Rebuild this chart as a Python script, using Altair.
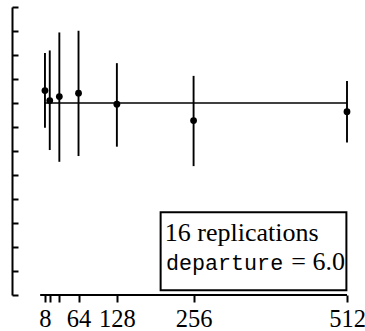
import altair as alt
import pandas as pd

# ---- data ----
sizes = [8, 16, 32, 64, 128, 256, 512]
means = [8.52, 8.10, 8.27, 8.41, 7.95, 7.27, 7.64]
lows = [6.97, 6.04, 5.55, 5.79, 6.18, 5.37, 6.35]
highs = [10.08, 10.19, 10.94, 11.01, 9.66, 9.13, 8.92]
target = [8.0]
x_ticks = [8, 16, 32, 64, 128, 256, 512]
x_shown = [8, 64, 128, 256, 512]
y_ticks = list(range(0, 13))
line1 = ["16 replications"]
line2a = ["departure"]
line2b = ["= 6.0"]

df = pd.DataFrame({"n": sizes, "mean": means, "lo": lows, "hi": highs})

W, H = 335, 288
SERIF = "Liberation Serif"
MONO = "Liberation Mono"

xs = alt.Scale(domain=[-47, 512], nice=False, zero=False)
ys = alt.Scale(domain=[0, 12], nice=False, zero=False)

shown_expr = "indexof([" + ",".join(str(v) for v in x_shown) + "], datum.value) >= 0 ? datum.label : ''"
x_axis = alt.Axis(values=x_ticks, labelExpr=shown_expr, domain=False, tickSize=7,
                  tickWidth=2, tickColor="black", labelFont=SERIF, labelFontSize=24.5,
                  labelColor="black", labelPadding=5, grid=False, title=None,
                  labelOverlap=False, labelFlush=False)
y_axis = alt.Axis(orient="right", offset=-W, values=y_ticks, labels=False, tickSize=6,
                  tickWidth=2, domainWidth=2, domainColor="black", tickColor="black",
                  grid=False, title=None)


def X(f):
    return alt.X(f, type="quantitative", scale=xs, axis=x_axis)


def Y(f):
    return alt.Y(f, type="quantitative", scale=ys, axis=y_axis)


bars = alt.Chart(df).mark_rule(color="black", strokeWidth=1.9).encode(
    x=X("n"), y=Y("lo"), y2="hi")
pts = alt.Chart(df).mark_circle(color="black", opacity=1, size=46).encode(
    x=X("n"), y=Y("mean"))

ref = alt.Chart(pd.DataFrame({"a": [sizes[0]], "b": [sizes[-1]], "t": target})).mark_rule(
    color="black", strokeWidth=1.6).encode(x=X("a"), x2="b", y=Y("t"))

xline = alt.Chart(pd.DataFrame({"a": [0], "b": [x_ticks[-1]], "t": [0]})).mark_rule(
    color="black", strokeWidth=2).encode(x=X("a"), x2="b", y=Y("t"))

box = alt.Chart(pd.DataFrame({"a": [201], "b": [511], "t": [3.45], "u": [0.2]})).mark_rect(
    fill="white", stroke="black", strokeWidth=2).encode(x=X("a"), x2="b", y=Y("t"), y2="u")

t1 = alt.Chart(pd.DataFrame({"a": [208], "t": [2.25], "s": line1})).mark_text(
    align="left", baseline="alphabetic", font=SERIF, fontSize=26, color="black").encode(
    x=X("a"), y=Y("t"), text="s:N")
t2 = alt.Chart(pd.DataFrame({"a": [210], "t": [1.04], "s": line2a})).mark_text(
    align="left", baseline="alphabetic", font=MONO, fontSize=21.7, color="black").encode(
    x=X("a"), y=Y("t"), text="s:N")
t3 = alt.Chart(pd.DataFrame({"a": [508.5], "t": [1.04], "s": line2b})).mark_text(
    align="right", baseline="alphabetic", font=SERIF, fontSize=26, color="black").encode(
    x=X("a"), y=Y("t"), text="s:N")

chart = alt.layer(bars, ref, pts, xline, box, t1, t2, t3).properties(
    width=W, height=H,
    autosize=alt.AutoSizeParams(type="none"),
    padding={"left": 12, "top": 7, "right": 18, "bottom": 36},
    background="white",
).configure_view(stroke=None)

chart.save("out.html", embed_options={"renderer": "svg", "actions": False})
